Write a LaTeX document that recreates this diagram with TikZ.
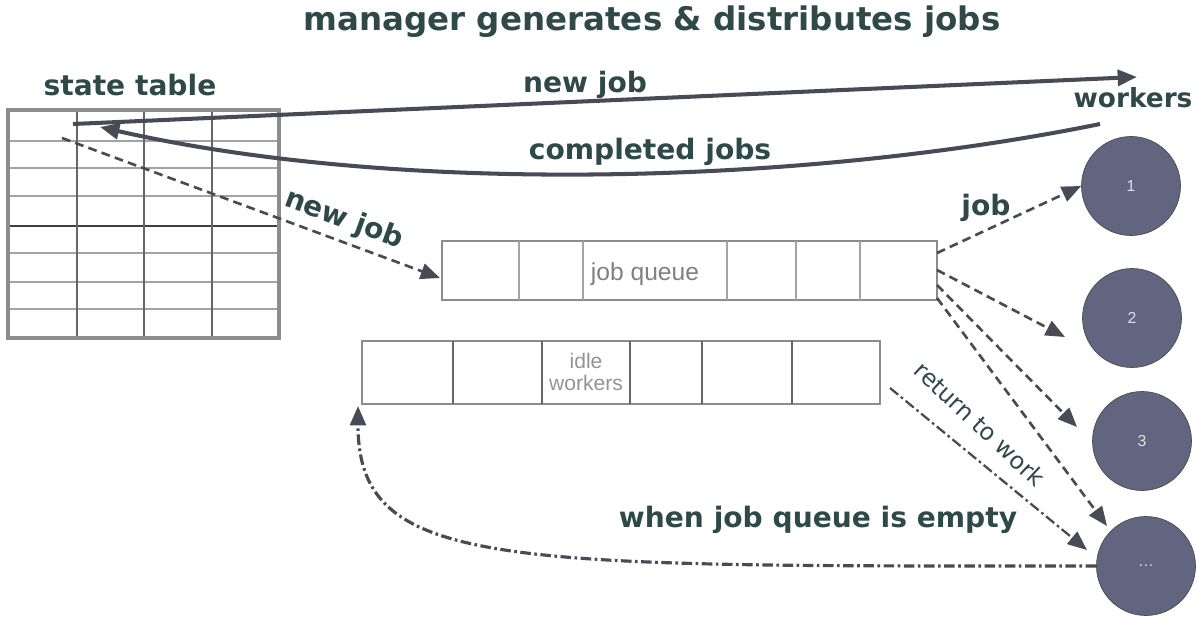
\documentclass[tikz,border=0pt]{standalone}
\usepackage{fontspec}
\setmainfont{DejaVu Sans}
\newfontfamily\cellfont{Liberation Sans}
\usetikzlibrary{arrows.meta}
\definecolor{lbl}{HTML}{2F4848}
\definecolor{arr}{HTML}{484A56}
\definecolor{wkr}{HTML}{62657F}
\definecolor{grd}{HTML}{8C8C8C}
\begin{document}
\begin{tikzpicture}[x=0.02cm,y=-0.02cm,>={Triangle[length=11pt,width=9pt]},
    lab/.style={text=lbl,font=\bfseries\fontsize{16}{18}\selectfont},
    dsh/.style={arr,line width=1.5pt,dash pattern=on 5pt off 3pt,->},
    dsd/.style={arr,line width=1.3pt,dash pattern=on 6pt off 2pt on 1.5pt off 2pt,->}]
    \useasboundingbox (0,0) rectangle (1197,622);
    \node[text=lbl,font=\bfseries\fontsize{18.5}{20}\selectfont](t) at (652,22) {manager generates \& distributes jobs};
    % state table
    \draw[grd!80,line width=1.2pt] foreach \y in {141,168,196,253,282,309} {(8,\y)--(279,\y)};
    \draw[black!75,line width=0.9pt] (8,226)--(279,226);
    \draw[black!60,line width=0.7pt] foreach \x in {77,144,212} {(\x,110)--(\x,338)};
    \draw[grd,line width=1.8pt] (8,110) rectangle (279,338);
    \node[lab](st) at (130,85) {state table};
    % job queue
    \draw[grd,line width=1.6pt] (442,241) rectangle (937,300);
    \draw[grd!80,line width=1pt] foreach \x in {519,583,727,796,860} {(\x,241)--(\x,300)};
    \node[text=gray,font=\cellfont\fontsize{14}{16}\selectfont](jq) at (645,274) {job queue};
    % idle workers
    \draw[grd,line width=1.6pt] (362,341) rectangle (880,404);
    \draw[black!60,line width=0.8pt] foreach \x in {453,542,630,702,792} {(\x,341)--(\x,404)};
    \node[text=gray!85,align=center,font=\cellfont\fontsize{12}{13}\selectfont](iw) at (586,372) {idle\\workers};
    % workers
    \foreach \n/\x/\y/\t in {w1/1131/186/1,w2/1132/318/2,w3/1142/441/3,w4/1146/566/\ldots}
        \node[circle,fill=wkr,draw=black!70,minimum size=1.98cm,text=white!80!wkr,font=\cellfont\small](\n) at (\x,\y) {\t};
    \node[lab,font=\bfseries\fontsize{15}{17}\selectfont](wl) at (1133,98) {workers};
    % ends of the connectors
    \coordinate (s1) at (73,124);
    \coordinate (s2) at (100,127);
    \coordinate (s3) at (62,138);
    \coordinate (wk) at (1137,77);
    \coordinate (wk2) at (1100,124);
    \coordinate (q0) at (440,278);
    \coordinate (q1) at (937,253);
    \coordinate (q2) at (937,270);
    \coordinate (q3) at (937,285);
    \coordinate (q4) at (937,298);
    \coordinate (e2) at (1065,337);
    \coordinate (e3) at (1077,427);
    \coordinate (e4) at (1107,526);
    \coordinate (e5) at (1087,550);
    \coordinate (i0) at (890,388);
    \coordinate (i1) at (358,406);
    % arrows
    \draw[arr,line width=2.3pt,->] (s1)--(wk);
    \node[lab](nj) at (585,85) {new job};
    \draw[arr,line width=2.3pt,->] (wk2) .. controls (800,185) and (400,195) .. (s2);
    \node[lab](cj) at (650,152) {completed jobs};
    \draw[dsh] (s3)--(q0);
    \node[lab,rotate=-20](nj2) at (344,220) {new job};
    \draw[dsh] (q1)--(w1.west);
    \node[lab](jb) at (986,208) {job};
    \draw[dsh] (q2)--(e2);
    \draw[dsh] (q3)--(e3);
    \draw[dsh] (q4)--(e4);
    \draw[dsd] (i0)--(e5);
    \node[text=lbl,rotate=-43,font=\fontsize{13.5}{15}\selectfont](rw) at (980,424) {return to work};
    \draw[dsd,line width=1.8pt] (w4.west) .. controls (500,566) and (358,570) .. (i1);
    \node[lab](em) at (818,520) {when job queue is empty};
\end{tikzpicture}
\end{document}
